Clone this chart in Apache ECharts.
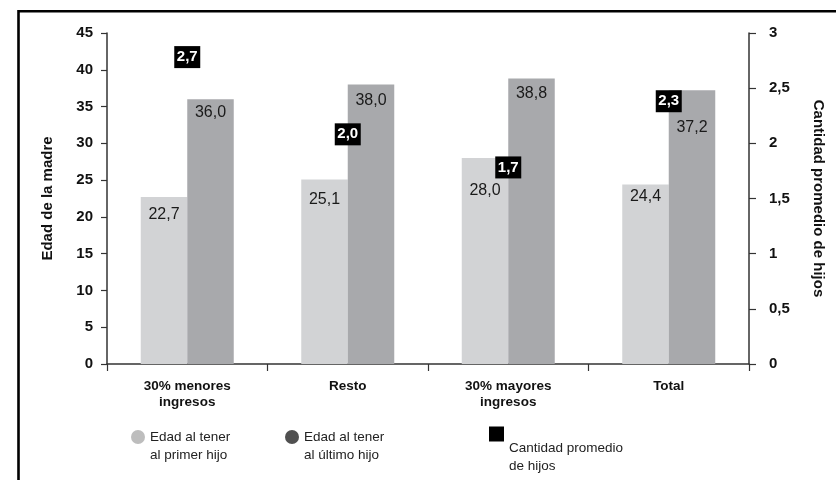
<!DOCTYPE html>
<html>
<head>
<meta charset="utf-8">
<script src="https://cdn.jsdelivr.net/npm/echarts@6/dist/echarts.min.js"></script>
<style>
  html, body { margin: 0; padding: 0; background: #fff; }
  #chart { width: 836px; height: 480px; }
</style>
</head>
<body>
<div id="chart"></div>
<script>
// Income groups on the category axis
const categories = ['30% menores\ningresos', 'Resto', '30% mayores\ningresos', 'Total'];

// Mother's age at first and last child (left axis, years)
const edadPrimerHijo = [22.7, 25.1, 28.0, 24.4];
const edadUltimoHijo = [36.0, 38.0, 38.8, 37.2];

// Average number of children (right axis)
const cantidadHijos = [2.7, 2.0, 1.7, 2.3];

// Tick scales
const leftTicks = { min: 0, max: 45, interval: 5 };
const rightTicks = { min: 0, max: 3, interval: 0.5 };

const seriesNames = [
  'Edad al tener al primer hijo',
  'Edad al tener al último hijo',
  'Cantidad promedio de hijos'
];
const legendLines = [
  ['Edad al tener', 'al primer hijo'],
  ['Edad al tener', 'al último hijo'],
  ['Cantidad promedio', 'de hijos']
];

const FONT = '"Liberation Sans", Arial, Helvetica, sans-serif';
const comma = v => String(v).replace('.', ',');
const fmt1 = v => v.toFixed(1).replace('.', ',');

// how far below each bar top its value label sits (px)
const firstDrop = [18, 20, 33, 12];
const lastDrop = [13, 16, 15, 37];

function barData(values, drops) {
  return values.map((v, i) => ({
    value: v,
    label: { distance: drops[i] - 8 }
  }));
}

const chart = echarts.init(document.getElementById('chart'), null, { renderer: 'canvas' });

// Legend entry with a spacer line above its two text lines, so the
// first line sits level with (or a little below) the icon.
function legendFor(idx, left, top, icon, color, w, h, spacer) {
  const lines = legendLines[idx];
  return {
    data: [{ name: seriesNames[idx], icon: icon, itemStyle: { color: color, opacity: 1 } }],
    left: left,
    top: top,
    padding: 0,
    orient: 'horizontal',
    itemWidth: w,
    itemHeight: h,
    selectedMode: false,
    formatter: () => '{s| }\n{t|' + lines[0] + '}\n{t|' + lines[1] + '}',
    textStyle: {
      color: '#222',
      rich: {
        s: { height: spacer, lineHeight: spacer, fontSize: 1 },
        t: { fontFamily: FONT, fontSize: 13.5, color: '#222', lineHeight: 18 }
      }
    }
  };
}

chart.setOption({
  animation: false,
  backgroundColor: '#fff',
  textStyle: { fontFamily: FONT },
  grid: { left: 107, right: 87, top: 33, bottom: 116, containLabel: false },
  graphic: [{
    type: 'rect',
    shape: { x: 18.5, y: 11.2, width: 1000, height: 1000 },
    style: { fill: 'none', stroke: '#000', lineWidth: 2.6 },
    silent: true
  }],
  legend: [
    legendFor(0, 131, 410, 'circle', '#bdbdbd', 14, 14, 18),
    legendFor(1, 285, 410, 'circle', '#505050', 14, 14, 18),
    legendFor(2, 489, 393, 'rect', '#000', 15, 15, 46)
  ],
  xAxis: {
    type: 'category',
    data: categories,
    boundaryGap: true,
    axisLine: { show: true, lineStyle: { color: '#333', width: 1.5 } },
    axisTick: { show: true, length: 7, lineStyle: { color: '#333', width: 1.2 } },
    axisLabel: {
      fontFamily: FONT,
      fontSize: 13.5,
      fontWeight: 'bold',
      color: '#111',
      lineHeight: 16,
      margin: 14,
      interval: 0
    }
  },
  yAxis: [{
    type: 'value',
    min: leftTicks.min, max: leftTicks.max, interval: leftTicks.interval,
    name: 'Edad de la madre',
    nameLocation: 'middle',
    nameGap: 52,
    nameRotate: 90,
    nameTextStyle: { fontFamily: FONT, fontSize: 15, fontWeight: 'bold', color: '#111' },
    axisLine: { show: true, lineStyle: { color: '#333', width: 1.5 } },
    axisTick: { show: true, length: 6, lineStyle: { color: '#333', width: 1.2 } },
    splitLine: { show: false },
    axisLabel: { fontFamily: FONT, fontSize: 15, fontWeight: 'bold', color: '#111', margin: 14 }
  }, {
    type: 'value',
    position: 'right',
    min: rightTicks.min, max: rightTicks.max, interval: rightTicks.interval,
    name: 'Cantidad promedio de hijos',
    nameLocation: 'middle',
    nameGap: 62,
    nameRotate: -90,
    nameTextStyle: { fontFamily: FONT, fontSize: 15, fontWeight: 'bold', color: '#111' },
    axisLine: { show: true, lineStyle: { color: '#333', width: 1.5 } },
    axisTick: { show: true, length: 7, lineStyle: { color: '#333', width: 1.2 } },
    splitLine: { show: false },
    axisLabel: {
      fontFamily: FONT, fontSize: 15, fontWeight: 'bold', color: '#111', margin: 20,
      formatter: v => comma(v)
    }
  }],
  series: [{
    name: seriesNames[0],
    type: 'bar',
    yAxisIndex: 0,
    data: barData(edadPrimerHijo, firstDrop),
    barWidth: 46.5,
    barGap: '0%',
    itemStyle: { color: '#d2d3d5' },
    label: {
      show: true,
      position: 'insideTop',
      fontFamily: FONT,
      fontSize: 16,
      color: '#1a1a1a',
      formatter: p => fmt1(p.value)
    },
    z: 2
  }, {
    name: seriesNames[1],
    type: 'bar',
    yAxisIndex: 0,
    data: barData(edadUltimoHijo, lastDrop),
    barWidth: 46.5,
    barGap: '0%',
    itemStyle: { color: '#a8a9ac' },
    label: {
      show: true,
      position: 'insideTop',
      fontFamily: FONT,
      fontSize: 16,
      color: '#1a1a1a',
      formatter: p => fmt1(p.value)
    },
    z: 2
  }, {
    // each average is a black tag sitting just above its value
    name: seriesNames[2],
    type: 'scatter',
    yAxisIndex: 1,
    data: cantidadHijos,
    symbol: 'rect',
    symbolSize: [26, 22],
    symbolOffset: [0, -9],
    itemStyle: { color: '#000', opacity: 1 },
    emphasis: { disabled: true },
    label: {
      show: true,
      position: 'inside',
      fontFamily: FONT,
      fontSize: 15,
      fontWeight: 'bold',
      color: '#fff',
      formatter: p => fmt1(p.value)
    },
    z: 5
  }]
});
</script>
</body>
</html>
